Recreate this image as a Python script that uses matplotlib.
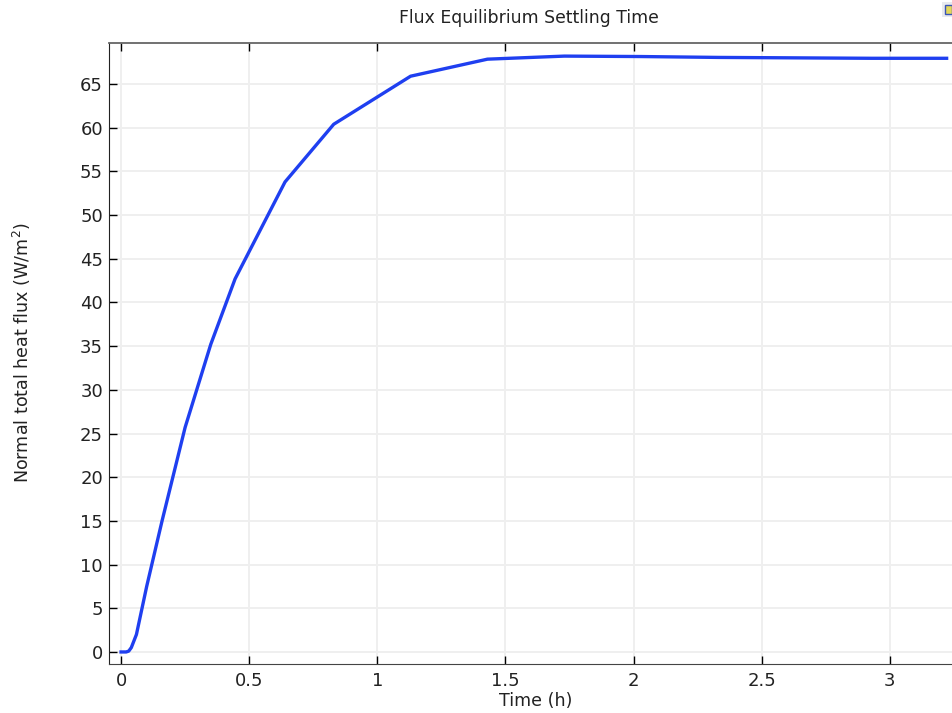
import matplotlib
matplotlib.use('Agg')
import matplotlib.pyplot as plt
from matplotlib.patches import Rectangle

# Data
time_h = [0, 0.01, 0.02, 0.03, 0.04, 0.06, 0.10, 0.16, 0.25, 0.35, 0.445, 0.64, 0.83,
          1.13, 1.43, 1.73, 2.03, 2.33, 2.63, 2.93, 3.222]
flux = [0, 0, 0, 0.1, 0.5, 2.0, 7.5, 15.0, 25.7, 35.2, 42.7, 53.8, 60.4,
        65.9, 67.85, 68.2, 68.15, 68.05, 68.0, 67.95, 67.95]
x_ticks = [0, 0.5, 1, 1.5, 2, 2.5, 3]
x_labels = ['0', '0.5', '1', '1.5', '2', '2.5', '3']
y_ticks = list(range(0, 70, 5))

W, H = 952, 713
fig = plt.figure(figsize=(W / 100, H / 100), dpi=100)
ax = fig.add_axes([108.5 / W, 1 - 663.5 / H, (W - 108.5) / W, 620.5 / H])

ax.plot(time_h, flux, color='#1f3ff0', linewidth=2.4, solid_joinstyle='round', zorder=3)

ax.set_xlim(-0.049, 3.243)
ax.set_ylim(-1.32, 69.7)
ax.set_xticks(x_ticks)
ax.set_xticklabels(x_labels)
ax.set_yticks(y_ticks)
ax.grid(True, color='#efefef', linewidth=1.4)
ax.set_axisbelow(True)
ax.tick_params(direction='in', length=5.5, width=1, top=True, labelsize=13,
               labelcolor='#222222', pad=4)
ax.tick_params(axis='x', pad=6)

ax.spines['right'].set_visible(False)
ax.spines['top'].set_color('#666666')
ax.spines['top'].set_linewidth(1.3)
ax.spines['bottom'].set_color('#444444')
ax.spines['left'].set_color('#222222')

fig.text(528.5 / W, 1 - 18 / H, 'Flux Equilibrium Settling Time', ha='center', va='center',
         fontsize=12.4, color='#222222')
fig.text(535.5 / W, 1 - 701 / H, 'Time (h)', ha='center', va='center',
         fontsize=12.6, color='#222222')
fig.text(22 / W, 1 - 353 / H, 'Normal total heat flux (W/m$^2$)', ha='center', va='center',
         rotation=90, fontsize=12.6, color='#222222')

# small icon clipped at the top right corner
fig.add_artist(Rectangle((942 / W, 1 - 17 / H), 10 / W, 15 / H, transform=fig.transFigure,
                         facecolor='#e8eaee', edgecolor='none'))
fig.add_artist(Rectangle((945 / W, 1 - 14 / H), 7 / W, 9 / H, transform=fig.transFigure,
                         facecolor='#e3d75a', edgecolor='#3a55b5', linewidth=1))

fig.savefig('out.png', dpi=100)
